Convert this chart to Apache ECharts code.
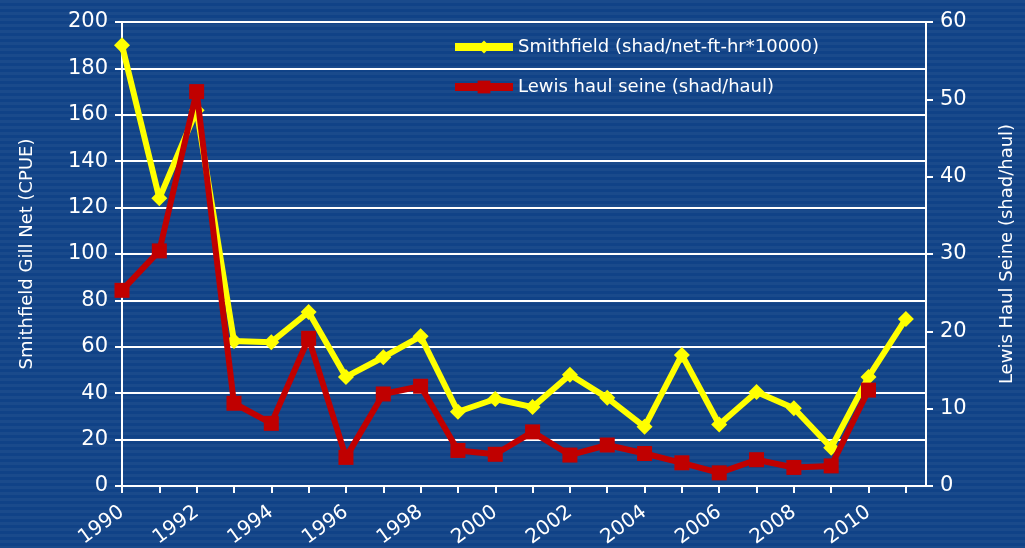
<!DOCTYPE html>
<html>
<head>
<meta charset="utf-8">
<script src="https://cdn.jsdelivr.net/npm/echarts@6/dist/echarts.min.js"></script>
<style>
html,body{margin:0;padding:0;}
#main{width:1025px;height:548px;}
</style>
</head>
<body>
<div id="main"></div>
<script>
// values
var years = [1990,1991,1992,1993,1994,1995,1996,1997,1998,1999,2000,2001,2002,2003,2004,2005,2006,2007,2008,2009,2010,2011];
var smithfield = [190,124,162,62.5,62,75,47,55.5,64.5,32,37.5,34,48,38,25.5,56.5,26.5,40.5,33.5,16.5,47,72];
var lewis = [25.3,30.4,51,10.7,8.1,19.1,3.7,11.9,12.9,4.6,4.1,7.0,4.0,5.3,4.2,3.0,1.7,3.4,2.4,2.6,12.4,null];
var yearLabels = [1990,1992,1994,1996,1998,2000,2002,2004,2006,2008,2010];

var chart = echarts.init(document.getElementById('main'));

// striped blue backdrop
var cv = document.createElement('canvas');
cv.width = 8; cv.height = 6;
var cx = cv.getContext('2d');
cx.fillStyle = '#1a4a8b'; cx.fillRect(0,0,8,6);
cx.fillStyle = '#104287'; cx.fillRect(0,3,8,3);

function pairs(vals){
  var out = [];
  for(var i=0;i<years.length;i++){
    if(vals[i] != null) out.push([years[i], vals[i]]);
  }
  return out;
}

var font = 'DejaVu Sans';
chart.setOption({
  backgroundColor:{image:cv, repeat:'repeat'},
  textStyle:{fontFamily:font},
  grid:{left:122, right:99, top:22, bottom:62, outerBoundsMode:'none', containLabel:false},
  legend:{
    orient:'vertical',
    left:446, top:33,
    itemWidth:58, itemHeight:16, itemGap:22,
    lineStyle:{width:8},
    textStyle:{color:'#fff', fontSize:18, fontFamily:font},
    data:['Smithfield (shad/net-ft-hr*10000)','Lewis haul seine (shad/haul)']
  },
  xAxis:{
    type:'value', min:1990, max:2011.54,
    axisLine:{lineStyle:{color:'#fff', width:2}},
    axisTick:{show:true, length:7, lineStyle:{color:'#fff', width:2}, customValues:years},
    axisLabel:{color:'#fff', fontSize:20, rotate:36, margin:24, customValues:yearLabels, formatter:function(v){return String(v);}},
    splitLine:{show:false}
  },
  yAxis:[{
    type:'value', min:0, max:200, interval:20,
    name:'Smithfield Gill Net (CPUE)', nameLocation:'middle', nameGap:86, nameRotate:90,
    nameTextStyle:{color:'#fff', fontSize:18},
    axisLine:{show:true, lineStyle:{color:'#fff', width:2}},
    axisTick:{show:true, length:7, lineStyle:{color:'#fff', width:2}},
    axisLabel:{color:'#fff', fontSize:21, margin:14},
    splitLine:{show:true, lineStyle:{color:'#fff', width:2}}
  },{
    type:'value', min:0, max:60, interval:10,
    name:'Lewis Haul Seine (shad/haul)', nameLocation:'middle', nameGap:72, nameRotate:90,
    nameTextStyle:{color:'#fff', fontSize:18},
    axisLine:{show:true, lineStyle:{color:'#fff', width:2}},
    axisTick:{show:true, length:7, lineStyle:{color:'#fff', width:2}},
    axisLabel:{color:'#fff', fontSize:21, margin:14},
    splitLine:{show:false}
  }],
  series:[{
    name:'Smithfield (shad/net-ft-hr*10000)',
    type:'line', yAxisIndex:0,
    data:pairs(smithfield),
    symbol:'diamond', symbolSize:16,
    itemStyle:{color:'#ffff00'},
    lineStyle:{color:'#ffff00', width:6},
    z:2
  },{
    name:'Lewis haul seine (shad/haul)',
    type:'line', yAxisIndex:1,
    data:pairs(lewis),
    symbol:'rect', symbolSize:15,
    itemStyle:{color:'#c00000'},
    lineStyle:{color:'#c00000', width:6},
    z:3
  }]
});
</script>
</body>
</html>
